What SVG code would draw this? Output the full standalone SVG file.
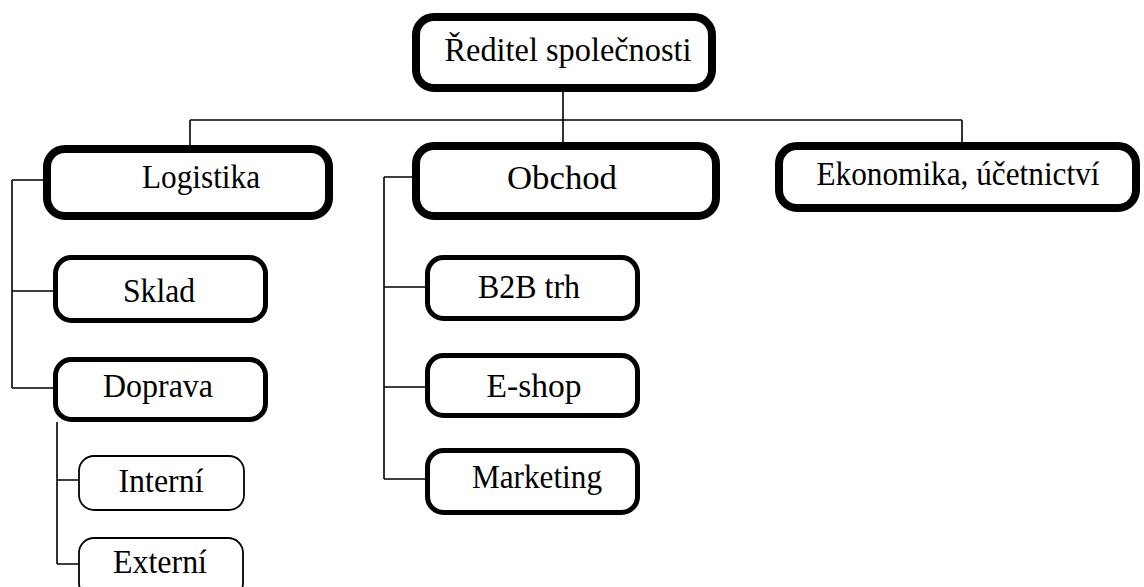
<svg xmlns="http://www.w3.org/2000/svg" width="1144" height="587" viewBox="0 0 1144 587">
<style>
.b{fill:#fff;stroke:#000}
.b1{stroke-width:8}
.b2{stroke-width:5}
.b3{stroke-width:1.8}
.t{font-family:"Liberation Serif","Times New Roman",serif;font-size:33px;fill:#000;text-anchor:middle}
.c{stroke:#000;stroke-width:1.6;fill:none}
</style>
<rect width="1144" height="587" fill="#fff"/>
<g id="connectors">
<path class="c" d="M563,92V120M190,120H962M190,120V145M563,120V142M962,120V142"/>
<path class="c" d="M12,180H43M12,180V388M12,291H53M12,388H53"/>
<path class="c" d="M57,422V564M57,480H78M57,564H78"/>
<path class="c" d="M384,177H412M384,177V479M384,287H425M384,387H425M384,479H425"/>
</g>
<g id="n-reditel"><rect class="b b1" x="416" y="17" width="296" height="71" rx="18"/><text class="t" x="568" y="61" textLength="247" lengthAdjust="spacingAndGlyphs">Ředitel společnosti</text></g>
<g id="n-logistika"><rect class="b b1" x="47" y="149" width="282" height="67" rx="18"/><text class="t" x="201" y="188" textLength="118" lengthAdjust="spacingAndGlyphs">Logistika</text></g>
<g id="n-obchod"><rect class="b b1" x="416" y="146" width="300" height="70" rx="18"/><text class="t" x="562" y="189" textLength="110" lengthAdjust="spacingAndGlyphs">Obchod</text></g>
<g id="n-ekonomika"><rect class="b b1" x="779" y="146" width="357" height="62" rx="18"/><text class="t" x="958" y="185" textLength="283" lengthAdjust="spacingAndGlyphs">Ekonomika, účetnictví</text></g>
<g id="n-sklad"><rect class="b b2" x="55.5" y="257.5" width="210" height="63" rx="16"/><text class="t" x="159" y="302" textLength="72" lengthAdjust="spacingAndGlyphs">Sklad</text></g>
<g id="n-doprava"><rect class="b b2" x="55.5" y="359.5" width="210" height="60" rx="16"/><text class="t" x="158" y="397" textLength="110" lengthAdjust="spacingAndGlyphs">Doprava</text></g>
<g id="n-interni"><rect class="b b3" x="79" y="456" width="165" height="54" rx="15"/><text class="t" x="161" y="492" textLength="85" lengthAdjust="spacingAndGlyphs">Interní</text></g>
<g id="n-externi"><rect class="b b3" x="79" y="538" width="164" height="60" rx="15"/><text class="t" x="160" y="573" textLength="94" lengthAdjust="spacingAndGlyphs">Externí</text></g>
<g id="n-b2b"><rect class="b b2" x="427.5" y="257.5" width="210" height="61" rx="16"/><text class="t" x="529" y="298" textLength="102" lengthAdjust="spacingAndGlyphs">B2B trh</text></g>
<g id="n-eshop"><rect class="b b2" x="427.5" y="355.5" width="210" height="60" rx="16"/><text class="t" x="534" y="397" textLength="95" lengthAdjust="spacingAndGlyphs">E-shop</text></g>
<g id="n-marketing"><rect class="b b2" x="427.5" y="450.5" width="210" height="62" rx="16"/><text class="t" x="537" y="488" textLength="130" lengthAdjust="spacingAndGlyphs">Marketing</text></g>
</svg>
